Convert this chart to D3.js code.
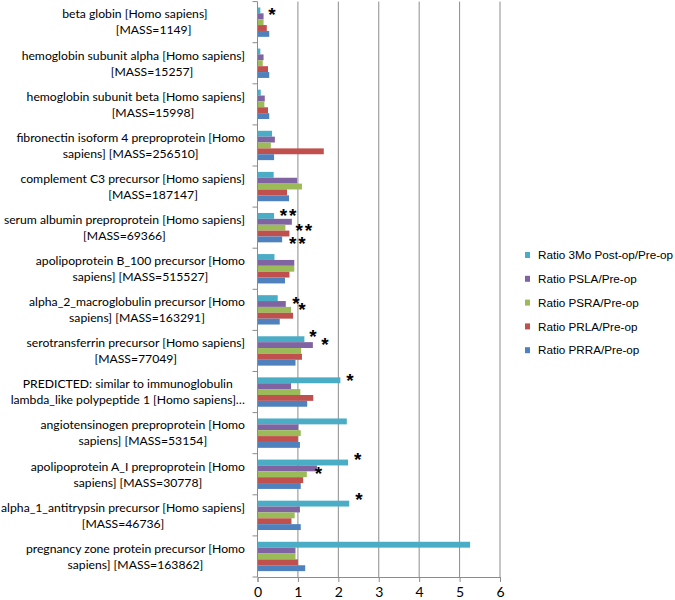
<!DOCTYPE html>
<html>
<head>
<meta charset="utf-8">
<script src="https://cdn.jsdelivr.net/npm/d3@7"></script>
<style>
  body { margin: 0; background: #fff; }
  svg { display: block; }
  .cat-label { font-family: Lato, "Open Sans", sans-serif; font-size: 12.2px; fill: #000; white-space: pre; }
  .legend-label { font-family: "Liberation Sans", Arial, sans-serif; font-size: 11.7px; fill: #000; }
  .tick-label { font-family: Lato, sans-serif; font-size: 14px; fill: #000; }
  .star { font-family: "Liberation Sans", Arial, sans-serif; font-size: 19px; font-weight: bold; fill: #000; }
</style>
</head>
<body>
<div id="chart"></div>
<script>
// categories, top to bottom (explicit line breaks as in the original)
var categories = [
    'beta globin [Homo sapiens]            \n[MASS=1149]',
    'hemoglobin subunit alpha [Homo sapiens]\n            [MASS=15257]',
    'hemoglobin subunit beta [Homo sapiens]\n           [MASS=15998]',
    'fibronectin isoform 4 preproprotein [Homo\nsapiens] [MASS=256510]',
    'complement C3 precursor [Homo sapiens]\n             [MASS=187147]',
    'serum albumin preproprotein [Homo sapiens]\n[MASS=69366]',
    'apolipoprotein B_100 precursor [Homo\nsapiens] [MASS=515527]',
    'alpha_2_macroglobulin precursor [Homo\nsapiens] [MASS=163291]',
    'serotransferrin precursor [Homo sapiens]\n[MASS=77049]',
    'PREDICTED: similar to immunoglobulin\nlambda_like polypeptide 1 [Homo sapiens]\u2026',
    'angiotensinogen preproprotein [Homo\nsapiens] [MASS=53154]',
    'apolipoprotein A_I preproprotein [Homo\nsapiens] [MASS=30778]',
    'alpha_1_antitrypsin precursor [Homo sapiens]\n[MASS=46736]',
    'pregnancy zone protein precursor [Homo\nsapiens] [MASS=163862]'
];

var seriesNames = [
    'Ratio 3Mo Post-op/Pre-op',
    'Ratio PSLA/Pre-op',
    'Ratio PSRA/Pre-op',
    'Ratio PRLA/Pre-op',
    'Ratio PRRA/Pre-op'
];
var seriesColors = ['#4BACC6', '#8064A2', '#9BBB59', '#C0504D', '#4F81BD'];

// values per series, same order as categories
var ratio3Mo = [0.07, 0.07, 0.08, 0.36, 0.40, 0.41, 0.42, 0.50, 1.16, 2.05, 2.21, 2.24, 2.27, 5.26];
var ratioPSLA = [0.15, 0.15, 0.18, 0.43, 0.98, 0.85, 0.91, 0.70, 1.37, 0.83, 1.01, 1.47, 1.05, 0.94];
var ratioPSRA = [0.15, 0.13, 0.17, 0.33, 1.10, 0.69, 0.91, 0.83, 1.08, 1.06, 1.07, 1.22, 0.92, 0.94];
var ratioPRLA = [0.23, 0.26, 0.26, 1.64, 0.73, 0.79, 0.79, 0.88, 1.10, 1.38, 1.00, 1.13, 0.84, 1.00];
var ratioPRRA = [0.29, 0.29, 0.29, 0.41, 0.78, 0.61, 0.68, 0.55, 0.94, 1.23, 1.05, 1.07, 1.07, 1.18];
var seriesValues = [ratio3Mo, ratioPSLA, ratioPSRA, ratioPRLA, ratioPRRA];

var xTicks = [0, 1, 2, 3, 4, 5, 6];

// significance marks: category index, bar row (0 = top bar), value position, text
var starCats = [0, 5, 5, 5, 7, 7, 8, 8, 9, 11, 11, 12];
var starRows = [0, -0.8, 1.7, 3.9, 0.1, 1.15, -1.2, 0.1, -0.7, -1.3, 1.1, -1.5];
var starVals = [0.36, 0.78, 1.17, 1.01, 0.95, 1.10, 1.37, 1.67, 2.29, 2.48, 1.51, 2.51];
var starText = ['*', '**', '**', '**', '*', '*', '*', '*', '*', '*', '*', '*'];

var W = 675, H = 600;
var plot = { left: 257.5, right: 500, top: 1.6, bottom: 577 };

var svg = d3.select('#chart').append('svg')
    .attr('width', W)
    .attr('height', H);

var xScale = d3.scaleLinear().domain([0, 6]).range([plot.left, plot.right]);
var yScale = d3.scaleBand().domain(d3.range(categories.length)).range([plot.top, plot.bottom]);
var ySub = d3.scaleBand().domain(d3.range(seriesNames.length))
    .range([0, yScale.bandwidth()]).paddingInner(0).paddingOuter(1);

// vertical gridlines
svg.append('g')
    .selectAll('line')
    .data(xTicks.slice(1))
    .enter().append('line')
    .attr('x1', d => xScale(d)).attr('x2', d => xScale(d))
    .attr('y1', plot.top).attr('y2', plot.bottom)
    .attr('stroke', '#8c8c8c').attr('stroke-width', 1);

// bars
var groups = svg.append('g').selectAll('g')
    .data(categories)
    .enter().append('g')
    .attr('transform', (d, i) => `translate(0,${yScale(i)})`);

groups.selectAll('rect')
    .data((d, i) => seriesValues.map((vals, s) => ({ s: s, v: vals[i] })))
    .enter().append('rect')
    .attr('x', xScale(0))
    .attr('y', d => ySub(d.s))
    .attr('width', d => xScale(d.v) - xScale(0))
    .attr('height', ySub.bandwidth())
    .attr('fill', d => seriesColors[d.s]);

// x axis
var xAxis = svg.append('g')
    .attr('transform', `translate(0,${plot.bottom})`)
    .call(d3.axisBottom(xScale).tickValues(xTicks).tickSize(5).tickFormat(d3.format('d')));
xAxis.select('.domain').attr('stroke', '#8c8c8c');
xAxis.selectAll('.tick line').attr('stroke', '#8c8c8c');
xAxis.selectAll('.tick text').attr('class', 'tick-label').attr('y', 10).attr('dy', '0.71em');

// y axis line with category boundary ticks
var yAxis = svg.append('g');
yAxis.append('line')
    .attr('x1', xScale(0)).attr('x2', xScale(0))
    .attr('y1', plot.top).attr('y2', plot.bottom)
    .attr('stroke', '#8c8c8c');
yAxis.selectAll('.cat-tick')
    .data(d3.range(categories.length + 1))
    .enter().append('line')
    .attr('x1', xScale(0) - 5).attr('x2', xScale(0))
    .attr('y1', d => plot.top + d * yScale.step())
    .attr('y2', d => plot.top + d * yScale.step())
    .attr('stroke', '#8c8c8c');

// category labels: block right-aligned, lines centred inside the block
var labelRight = 245;
categories.forEach(function(label, i) {
    var lines = label.split('\n');
    var cy = yScale(i) + yScale.bandwidth() / 2;
    var g = svg.append('g');
    var texts = lines.map(function(line, k) {
        return g.append('text')
            .attr('class', 'cat-label')
            .attr('xml:space', 'preserve')
            .attr('y', cy + (k - (lines.length - 1) / 2) * 16)
            .attr('dy', '0.35em')
            .attr('text-anchor', 'middle')
            .text(line);
    });
    var maxW = d3.max(texts, t => t.node().getComputedTextLength());
    texts.forEach(t => t.attr('x', labelRight - maxW / 2));
});

// significance stars
svg.append('g').selectAll('text')
    .data(starText)
    .enter().append('text')
    .attr('class', 'star')
    .attr('x', (d, i) => xScale(starVals[i]))
    .attr('y', (d, i) => yScale(starCats[i]) + ySub(0) + ySub.bandwidth() / 2 + starRows[i] * ySub.step())
    .attr('dy', '0.58em')
    .attr('text-anchor', 'middle')
    .attr('letter-spacing', d => d.length > 1 ? 2 : 0)
    .text(d => d);

// legend
var legend = svg.append('g').selectAll('g')
    .data(seriesNames)
    .enter().append('g')
    .attr('transform', (d, i) => `translate(525,${255 + i * 23.8})`);
legend.append('rect')
    .attr('x', 0).attr('y', -3)
    .attr('width', 5).attr('height', 6)
    .attr('fill', (d, i) => seriesColors[i]);
legend.append('text')
    .attr('class', 'legend-label')
    .attr('x', 13)
    .attr('dy', '0.35em')
    .text(d => d);
</script>
</body>
</html>
